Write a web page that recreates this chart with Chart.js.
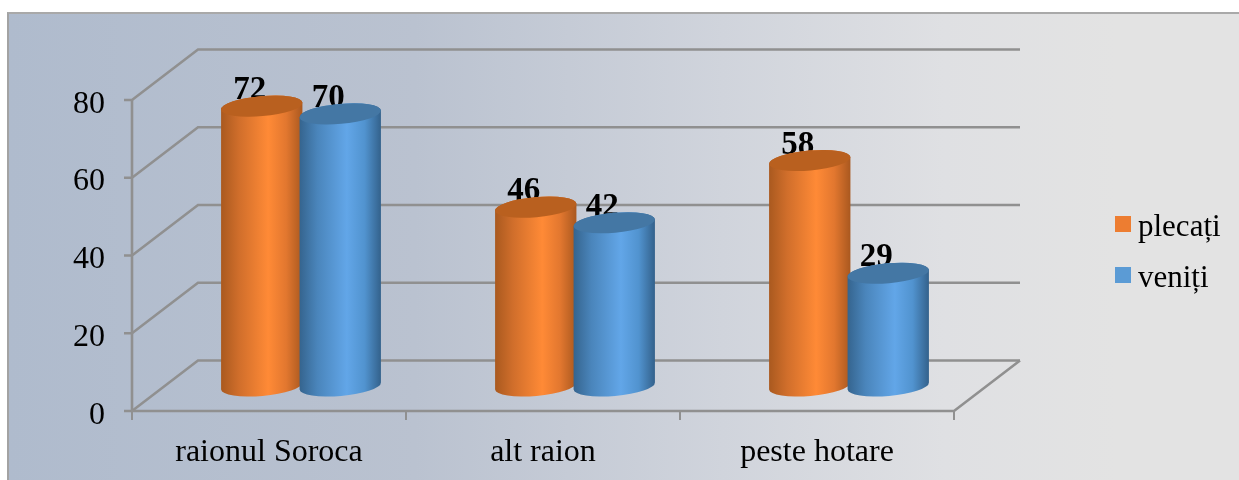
<!DOCTYPE html>
<html>
<head>
<meta charset="utf-8">
<title>plecați / veniți</title>
<script src="https://cdn.jsdelivr.net/npm/chart.js@4"></script>
<style>
  html, body { margin: 0; padding: 0; background: #fff; }
  body { width: 1239px; height: 480px; overflow: hidden; position: relative; }
  #panel {
    position: absolute; left: 7px; top: 12px; width: 1232px; height: 468px;
    box-sizing: border-box;
    border-left: 2px solid #a3a3a3; border-top: 2px solid #a9a9a9;
    background: linear-gradient(90deg, #afbbcd 0%, #bac2d0 33%, #d0d4dc 58%, #dfe0e3 76%, #e3e3e3 90%);
  }
  canvas { position: absolute; left: 0; top: 0; }
</style>
</head>
<body>
<div id="panel"></div>
<canvas id="graphe" width="1239" height="480"></canvas>
<script>
const categories = ['raionul Soroca', 'alt raion', 'peste hotare'];
const plecati = [72, 46, 58];
const veniti = [70, 42, 29];
const yTicks = [0, 20, 40, 60, 80];

const serif = '"Liberation Serif", "Times New Roman", serif';
const gridColor = '#909090';

// decalage de la perspective 3D
const wallDx = 66, wallDy = -50.5;
const barDx = 32, barDy = -25;

const looks = [
  { side: ['#a9591f', '#d06e2b', '#ff8a36', '#e2772f', '#a9581f'], top: '#b9601f' },
  { side: ['#35648e', '#4a85bb', '#62a6e8', '#5193cf', '#33618b'], top: '#4477a4' },
];

function drawWalls(chart) {
  const { ctx, chartArea: a, scales: { y } } = chart;
  ctx.save();
  ctx.strokeStyle = gridColor;
  ctx.lineWidth = 2.6;
  yTicks.forEach((v) => {
    const py = y.getPixelForValue(v);
    ctx.beginPath();
    ctx.moveTo(a.left - 8, py);
    ctx.lineTo(a.left, py);
    ctx.lineTo(a.left + wallDx, py + wallDy);
    ctx.lineTo(a.right + wallDx, py + wallDy);
    ctx.stroke();
  });
  ctx.beginPath();
  ctx.moveTo(a.left, a.top);
  ctx.lineTo(a.left, a.bottom);
  ctx.lineTo(a.right, a.bottom);
  ctx.lineTo(a.right + wallDx, a.bottom + wallDy);
  ctx.stroke();
  // petits traits sous l'axe
  const band = (a.right - a.left) / categories.length;
  ctx.lineWidth = 2;
  for (let i = 0; i <= categories.length; i++) {
    ctx.beginPath();
    ctx.moveTo(a.left + i * band, a.bottom);
    ctx.lineTo(a.left + i * band, a.bottom + 9);
    ctx.stroke();
  }
  // etiquettes de l'axe y, un peu plus bas que le centre du trait
  ctx.font = '32px ' + serif;
  ctx.fillStyle = '#000';
  ctx.textAlign = 'right';
  ctx.textBaseline = 'alphabetic';
  yTicks.forEach((v) => ctx.fillText(v, 105, y.getPixelForValue(v) + 12.5));
  ctx.restore();
}

function drawCylinder(ctx, el, look) {
  const rx = el.width / 2, ry = 10, tilt = -5 * Math.PI / 180;
  const g = ctx.createLinearGradient(el.x - rx, 0, el.x + rx, 0);
  [0, 0.22, 0.58, 0.8, 1].forEach((s, i) => g.addColorStop(s, look.side[i]));
  ctx.beginPath();
  ctx.ellipse(el.x, el.y, rx, ry, tilt, Math.PI, 0, false);
  ctx.ellipse(el.x, el.base, rx, ry, tilt, 0, Math.PI, false);
  ctx.closePath();
  ctx.fillStyle = g;
  ctx.fill();
  ctx.beginPath();
  ctx.ellipse(el.x, el.y, rx, ry, tilt, 0, 2 * Math.PI);
  ctx.fillStyle = look.top;
  ctx.fill();
}

function drawLegend(chart) {
  const { ctx } = chart;
  ctx.save();
  ctx.font = '31px ' + serif;
  ctx.textBaseline = 'alphabetic';
  ctx.textAlign = 'left';
  chart.data.datasets.forEach((ds, i) => {
    const top = 216 + i * 51;
    ctx.fillStyle = ds.backgroundColor;
    ctx.fillRect(1115, top, 16, 16);
    ctx.fillStyle = '#000';
    ctx.fillText(ds.label, 1138, top + 20);
  });
  ctx.restore();
}

const cylindres = {
  id: 'cylindres',
  beforeDatasetsDraw(chart) {
    const { ctx } = chart;
    drawWalls(chart);
    ctx.save();
    ctx.translate(barDx, barDy);
    // les valeurs passent derriere les cylindres
    ctx.font = 'bold 33px ' + serif;
    ctx.textAlign = 'center';
    ctx.textBaseline = 'alphabetic';
    ctx.fillStyle = '#000';
    chart.data.datasets.forEach((ds, d) => {
      chart.getDatasetMeta(d).data.forEach((el, i) => {
        ctx.fillText(ds.data[i], el.x - 12, el.y - 7);
      });
    });
    chart.data.datasets.forEach((ds, d) => {
      chart.getDatasetMeta(d).data.forEach((el) => drawCylinder(ctx, el, looks[d]));
    });
    ctx.restore();
    drawLegend(chart);
    return false;
  },
};

new Chart(document.getElementById('graphe'), {
  type: 'bar',
  data: {
    labels: categories,
    datasets: [
      { label: 'plecați', data: plecati, backgroundColor: '#ed7d31' },
      { label: 'veniți', data: veniti, backgroundColor: '#5b9bd5' },
    ],
  },
  options: {
    responsive: false,
    animation: false,
    events: [],
    categoryPercentage: 0.573,
    barPercentage: 1.04,
    layout: { padding: { top: 100, right: 285, left: 0, bottom: 0 } },
    plugins: { legend: { display: false }, tooltip: { enabled: false } },
    scales: {
      x: {
        grid: { display: false },
        border: { display: false },
        afterFit: (s) => { s.height = 69; },
        ticks: { color: '#000', font: { family: serif, size: 32 }, padding: 14, maxRotation: 0 },
      },
      y: {
        min: 0,
        max: 80,
        grid: { display: false },
        border: { display: false },
        afterFit: (s) => { s.width = 132; },
        afterBuildTicks: (s) => { s.ticks = yTicks.map((value) => ({ value })); },
        ticks: { display: false },
      },
    },
  },
  plugins: [cylindres],
});
</script>
</body>
</html>
